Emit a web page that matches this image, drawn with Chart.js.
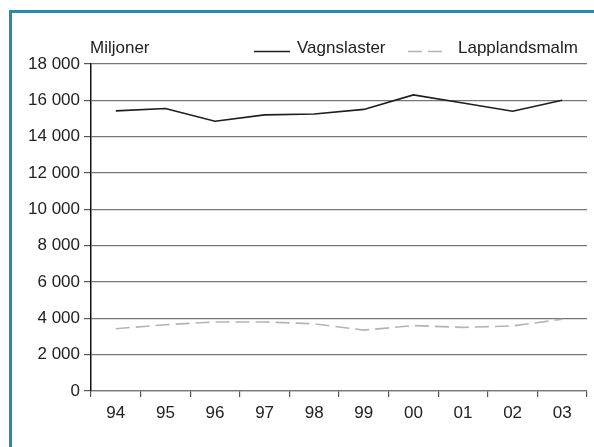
<!DOCTYPE html>
<html>
<head>
<meta charset="utf-8">
<script src="https://cdn.jsdelivr.net/npm/chart.js@4/dist/chart.umd.min.js"></script>
<style>
  html, body { margin: 0; padding: 0; background: #fff; }
  #wrap { position: relative; width: 594px; height: 447px; overflow: hidden; }
  #frame { position: absolute; left: 9px; top: 10px; right: 0; bottom: 0;
           border-top: 3px solid #2c8bab; border-left: 3px solid #2c8bab; }
  #myChart { position: absolute; left: 0; top: 0; }
</style>
</head>
<body>
<div id="wrap">
  <div id="frame"></div>
  <canvas id="myChart" width="594" height="447"></canvas>
</div>
<script>
const years = ['94', '95', '96', '97', '98', '99', '00', '01', '02', '03'];
const vagnslaster = [15420, 15550, 14850, 15200, 15250, 15500, 16300, 15850, 15400, 16000];
const lapplandsmalm = [3430, 3650, 3800, 3800, 3700, 3350, 3600, 3500, 3580, 3950];
const yTicks = [0, 2000, 4000, 6000, 8000, 10000, 12000, 14000, 16000, 18000];

const FONT = 'Liberation Sans, Arial, sans-serif';
const TEXT = '#222';

const fmt = (v) => String(v).replace(/\B(?=(\d{3})+(?!\d))/g, ' ');

// unit label and legend sit above the plot area
const headerPlugin = {
  id: 'header',
  afterDraw(chart) {
    const ctx = chart.ctx;
    const area = chart.chartArea;
    ctx.save();
    ctx.font = '17px ' + FONT;
    ctx.fillStyle = TEXT;
    ctx.textBaseline = 'alphabetic';
    ctx.textAlign = 'left';
    ctx.fillText('Miljoner', area.left - 1, 53);

    const y = 51.5;
    ctx.lineWidth = 1.6;
    // Vagnslaster
    ctx.strokeStyle = '#1e1e1e';
    ctx.setLineDash([]);
    ctx.beginPath();
    ctx.moveTo(254, y);
    ctx.lineTo(290, y);
    ctx.stroke();
    ctx.fillText(chart.data.datasets[0].label, 297, 53);
    // Lapplandsmalm
    ctx.strokeStyle = '#b4b4b4';
    ctx.setLineDash([14, 6]);
    ctx.beginPath();
    ctx.moveTo(408, y);
    ctx.lineTo(446, y);
    ctx.stroke();
    ctx.setLineDash([]);
    ctx.fillText(chart.data.datasets[1].label, 458, 53);
    ctx.restore();
  }
};

new Chart('myChart', {
  type: 'line',
  data: {
    labels: years,
    datasets: [
      {
        label: 'Vagnslaster',
        data: vagnslaster,
        borderColor: '#1e1e1e',
        borderWidth: 1.6,
        pointRadius: 0,
        tension: 0
      },
      {
        label: 'Lapplandsmalm',
        data: lapplandsmalm,
        borderColor: '#b4b4b4',
        borderWidth: 1.6,
        borderDash: [14, 6],
        pointRadius: 0,
        tension: 0
      }
    ]
  },
  options: {
    responsive: false,
    animation: false,
    layout: { padding: { top: 64, right: 7, left: 0, bottom: 0 } },
    plugins: {
      legend: { display: false },
      tooltip: { enabled: false }
    },
    scales: {
      x: {
        offset: true,
        grid: {
          offset: true,
          drawOnChartArea: false,
          drawTicks: true,
          tickLength: 6,
          tickColor: '#555',
          lineWidth: 1.2
        },
        border: { color: '#777', width: 1.2 },
        ticks: {
          color: TEXT,
          font: { family: FONT, size: 17 },
          padding: 6,
          maxRotation: 0
        },
        afterFit: (s) => { s.height = 56; }
      },
      y: {
        min: 0,
        max: 18000,
        afterBuildTicks: (s) => { s.ticks = yTicks.map((v) => ({ value: v })); },
        grid: {
          color: '#777',
          lineWidth: 1.2,
          tickLength: 7,
          tickColor: '#555'
        },
        border: { color: '#111', width: 1.5 },
        ticks: {
          color: TEXT,
          font: { family: FONT, size: 17 },
          padding: 4,
          callback: (v) => fmt(v)
        },
        afterFit: (s) => { s.width = 91; }
      }
    }
  },
  plugins: [headerPlugin]
});
</script>
</body>
</html>
